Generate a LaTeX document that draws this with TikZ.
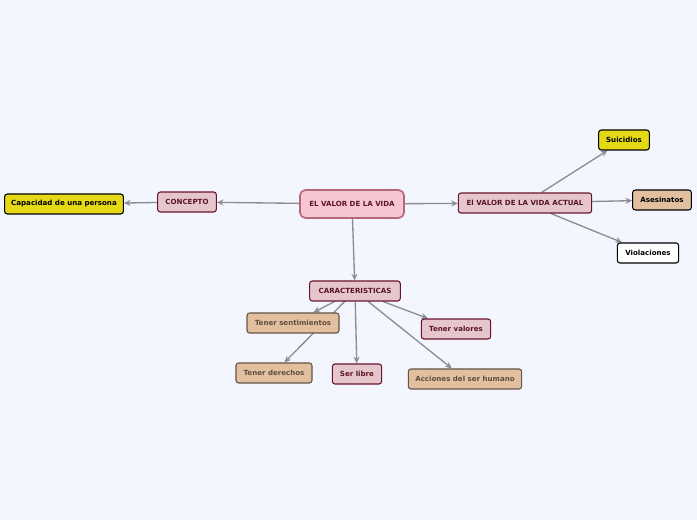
\documentclass[tikz,border=0pt]{standalone}
\usepackage{fontspec}
\setmainfont{DejaVu Sans}
\usetikzlibrary{arrows.meta,positioning,backgrounds}
\definecolor{bgblue}{RGB}{243,246,254}
\definecolor{linkgray}{RGB}{140,140,150}
\definecolor{pinkfill}{RGB}{230,198,205}
\definecolor{pinkline}{RGB}{105,20,45}
\definecolor{pinktext}{RGB}{90,20,40}
\definecolor{tanfill}{RGB}{226,191,158}
\definecolor{tanline}{RGB}{100,85,70}
\definecolor{tantext}{RGB}{95,78,62}
\definecolor{yellowfill}{RGB}{229,217,21}
\definecolor{centerfill}{RGB}{248,198,210}
\definecolor{centerline}{RGB}{180,105,120}

\begin{document}
\begin{tikzpicture}[
  x=0.75pt, y=-0.75pt,
  box/.style={rectangle, rounded corners=2pt, line width=0.8pt, minimum height=15pt, inner sep=1pt, font=\fontsize{5.3}{6}\selectfont\bfseries},
  pinkbox/.style={box, fill=pinkfill, draw=pinkline, text=pinktext},
  tanbox/.style={box, fill=tanfill, draw=tanline, text=tantext},
  yellowbox/.style={box, fill=yellowfill, draw=black, text=black},
  whitebox/.style={box, fill=white, draw=black, text=black},
  centerbox/.style={box, fill=centerfill, draw=centerline, line width=1.2pt, rounded corners=4pt, minimum height=21pt, text=pinktext},
  link/.style={draw=linkgray, line width=1pt, -{Stealth[length=5pt,width=4.5pt]}}
]
  \node[centerbox, minimum width=78pt] (vida) at (352,204) {EL VALOR DE LA VIDA};
  \node[pinkbox, minimum width=44pt] (concepto) at (187,202) {CONCEPTO};
  \node[yellowbox, minimum width=89pt] (capacidad) at (64,204) {Capacidad de una persona};
  \node[pinkbox, minimum width=100pt] (actual) at (525,203) {El VALOR DE LA VIDA ACTUAL};
  \node[yellowbox, minimum width=38pt] (suicidios) at (624,140) {Suicidios};
  \node[tanbox, draw=black, text=black, minimum width=44pt] (asesinatos) at (662,200) {Asesinatos};
  \node[whitebox, minimum width=46pt] (violaciones) at (648,253) {Violaciones};
  \node[pinkbox, minimum width=68pt] (caract) at (355,291) {CARACTERISTICAS};
  \node[tanbox, minimum width=69pt] (sentim) at (293,323) {Tener sentimientos};
  \node[pinkbox, minimum width=52pt] (valores) at (456,329) {Tener valores};
  \node[tanbox, minimum width=57pt] (derechos) at (274,373) {Tener derechos};
  \node[pinkbox, minimum width=37pt] (libre) at (357,374) {Ser libre};
  \node[tanbox, minimum width=85pt] (acciones) at (465,379) {Acciones del ser humano};

  \begin{pgfonlayer}{background}
    \fill[bgblue] (0,0) rectangle (697,520);
    \draw[link] (vida) -- (concepto);
    \draw[link] (concepto) -- (capacidad);
    \draw[link] (vida) -- (actual);
    \draw[link] (vida) -- (caract);
    \draw[link] (actual) -- (suicidios);
    \draw[link] (actual) -- (asesinatos);
    \draw[link] (actual) -- (violaciones);
    \draw[link] (caract) -- (sentim);
    \draw[link] (caract.center) -- (derechos);
    \draw[link] (caract) -- (libre);
    \draw[link] (caract) -- (valores);
    \draw[link] (caract) -- (acciones);
  \end{pgfonlayer}
\end{tikzpicture}
\end{document}
